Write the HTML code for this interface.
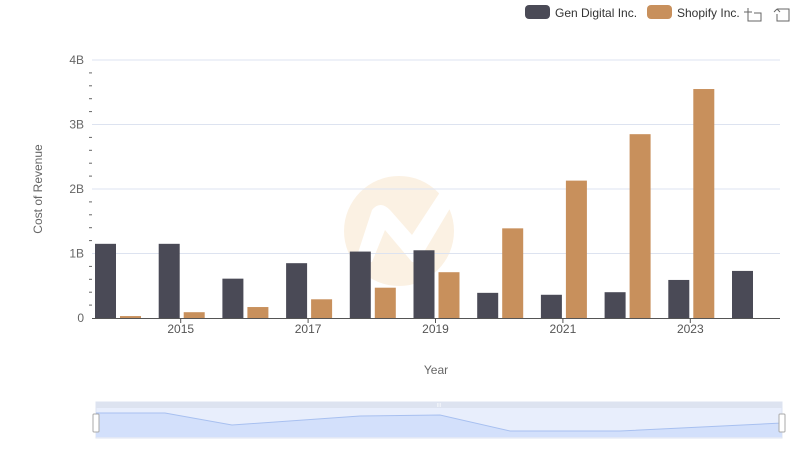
<!DOCTYPE html>
<html><head><meta charset="utf-8"><style>
body{margin:0;background:#fff;font-family:"Liberation Sans",sans-serif;}
svg text{font-family:"Liberation Sans",sans-serif;}
</style></head><body>
<svg id="c" width="800" height="461" xmlns="http://www.w3.org/2000/svg">
<g>
<circle cx="399" cy="231" r="55" fill="#fbf1e3"/>
<path d="M355 262 L372 210 Q380 200 390 210 L412 235 L448 180 L455 200 L418 262 L412 262 L385 230 L372 262 Z" fill="#fff"/>
</g>
<g id="grid"></g>
<g id="bars"></g>
<g id="axes"></g>
<text x="42" y="189" transform="rotate(-90 42 189)" text-anchor="middle" font-size="12" fill="#666">Cost of Revenue</text>
<text x="436" y="374" text-anchor="middle" font-size="12" fill="#666">Year</text>
<g>
<g><rect x="525" y="5" width="25" height="14" rx="4" fill="#4a4a56"/><text x="555" y="17" font-size="12" fill="#333">Gen Digital Inc.</text></g>
<g><rect x="647" y="5" width="25" height="14" rx="4" fill="#c8905c"/><text x="677" y="17" font-size="12" fill="#333">Shopify Inc.</text></g>
</g>
<g stroke="#666" fill="none" stroke-width="1"><path d="M748 8 V21 H761 V13 H754 M744 12 H752 M748 8 V16"/></g>
<g stroke="#666" fill="none" stroke-width="1"><path d="M777 9 H789 V21 H777 V14 M777 9 L774 12 M777 9 L780 12"/></g>
<g>
<rect x="96" y="402" width="686" height="36" fill="#e8eefc" stroke="#dde3f0"/>
<rect x="96" y="402" width="686" height="6" fill="#dde3f0"/>
<path d="M96 413 L165 413 L232 425 L360 416 L440 415 L510 431 L620 431 L782 423 L782 437 L96 437 Z" fill="#d3e0fb" stroke="none"/>
<path d="M96 413 L165 413 L232 425 L360 416 L440 415 L510 431 L620 431 L782 423" fill="none" stroke="#a8c0f0"/>
<rect x="93" y="414" width="6" height="18" rx="1" fill="#fff" stroke="#aaa"/>
<rect x="779" y="414" width="6" height="18" rx="1" fill="#fff" stroke="#aaa"/>
<text x="439" y="407" text-anchor="middle" font-size="5" fill="#fff">III</text>
</g>
</svg>
<script>
const years=[2014,2015,2016,2017,2018,2019,2020,2021,2022,2023,2024];
const genValues=[1.15,1.15,0.61,0.85,1.03,1.05,0.39,0.36,0.40,0.59,0.73];
const shopifyValues=[0.03,0.09,0.17,0.29,0.47,0.71,1.39,2.13,2.85,3.55,null];
const yTicks=[0,1,2,3,4];
const yTickLabels=["0","1B","2B","3B","4B"];
const xTickYears=[2015,2017,2019,2021,2023];
const NS="http://www.w3.org/2000/svg";
const y0=318,yTop=60,vMax=4,left=92,right=780;
function yS(v){return y0-(v/vMax)*(y0-yTop);}
function xS(yr){return 117+(yr-2014)*63.7;}
function mk(t,a,p,name){const e=document.createElementNS(NS,t);for(const k in a)e.setAttribute(k,a[k]);


p.appendChild(e);return e;}
const g=document.getElementById('grid'),b=document.getElementById('bars'),ax=document.getElementById('axes');
yTicks.forEach((t,i)=>{const y=yS(t);
if(t>0)mk('line',{x1:left,x2:right,y1:y,y2:y,stroke:'#dde3f0'},g,'gridline');
const tx=mk('text',{x:84,y:y+4,'text-anchor':'end','font-size':12,fill:'#666'},ax,'y-tick-label');tx.textContent=yTickLabels[i];
if(i<yTicks.length-1)for(let k=1;k<5;k++){const yy=yS(t+k*0.2);mk('line',{x1:89,x2:92,y1:yy,y2:yy,stroke:'#666'},ax,'y-minor-tick');}
});
years.forEach((yr,i)=>{const c=xS(yr);
const gv=genValues[i];if(gv!=null)mk('rect',{x:c-22,y:yS(gv),width:21,height:y0-yS(gv),fill:'#4a4a56'},b,'bar-gen-'+yr);
const sv=shopifyValues[i];if(sv!=null)mk('rect',{x:c+3,y:yS(sv),width:21,height:y0-yS(sv),fill:'#c8905c'},b,'bar-shopify-'+yr);
});
mk('line',{x1:left,x2:right,y1:y0+0.5,y2:y0+0.5,stroke:'#555'},ax,'x-axis-line');
xTickYears.forEach(yr=>{const x=xS(yr);mk('line',{x1:x,x2:x,y1:y0,y2:y0+5,stroke:'#555'},ax,'x-tick');
const t=mk('text',{x:x,y:y0+15,'text-anchor':'middle','font-size':12,fill:'#555'},ax,'x-tick-label');t.textContent=yr;});
</script>
</body></html>
